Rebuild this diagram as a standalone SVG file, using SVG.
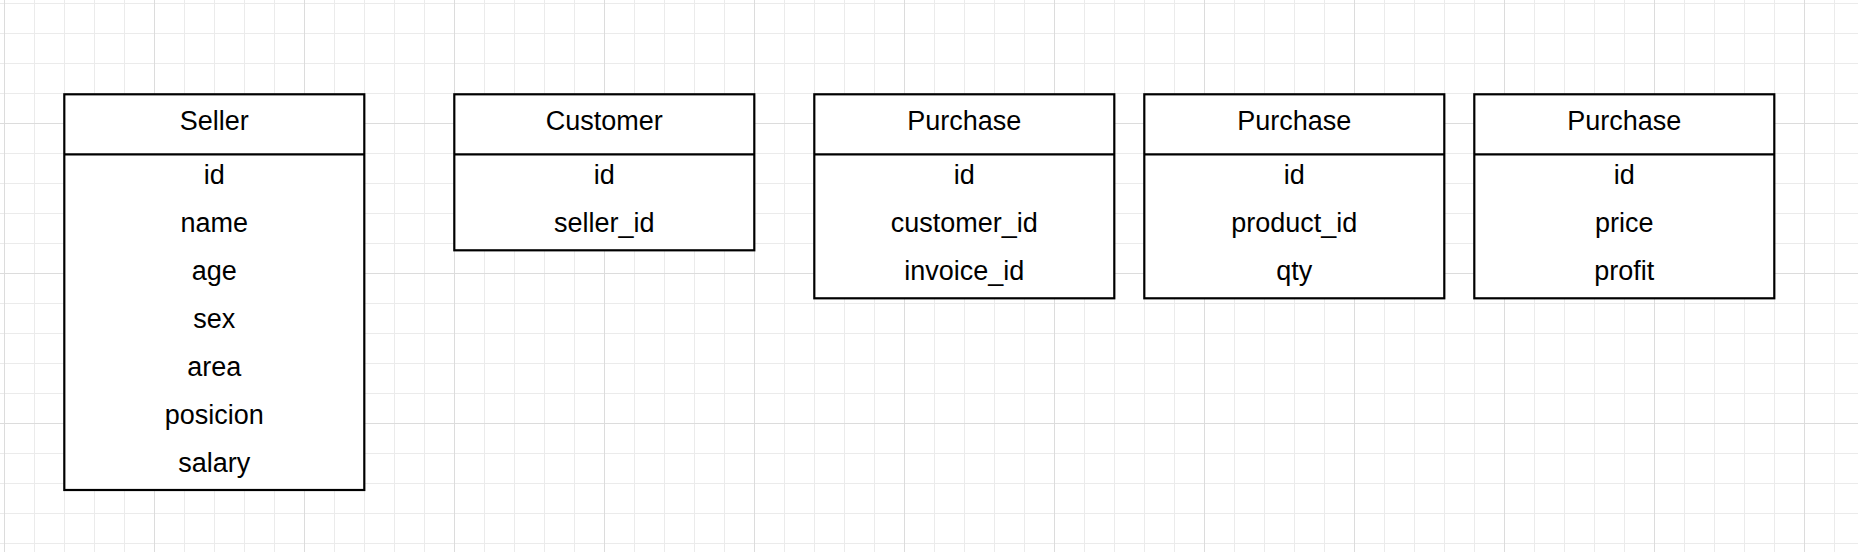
<svg xmlns="http://www.w3.org/2000/svg" width="1858" height="552" viewBox="0 0 1858 552">
  <defs>
    <pattern id="minor" width="30" height="30" patternUnits="userSpaceOnUse" x="4" y="3">
      <rect x="0" y="0" width="1" height="30" fill="#ebebeb"/>
      <rect x="0" y="0" width="30" height="1" fill="#ebebeb"/>
    </pattern>
    <pattern id="major" width="150" height="150" patternUnits="userSpaceOnUse" x="4" y="123">
      <rect x="0" y="0" width="1" height="150" fill="#dcdcdc"/>
      <rect x="0" y="0" width="150" height="1" fill="#dcdcdc"/>
    </pattern>
  </defs>
  <style>
    .box { fill: #ffffff; stroke: #000000; stroke-width: 2.2; }
    .sep { stroke: #000000; stroke-width: 2.2; fill: none; }
    .t { font-family: "Liberation Sans", Arial, sans-serif; font-size: 27px; fill: #000000; text-anchor: middle; }
  </style>
  <rect width="1858" height="552" fill="#ffffff"/>
  <rect width="1858" height="552" fill="url(#minor)"/>
  <rect width="1858" height="552" fill="url(#major)"/>

  <g id="connectors"></g>

  <g id="seller">
    <rect class="box" x="64.3" y="94.3" width="300" height="395.7"/>
    <line class="sep" x1="64.3" y1="154.3" x2="364.3" y2="154.3"/>
    <text class="t" x="214.3" y="130">Seller</text>
    <text class="t" x="214.3" y="183.7">id</text>
    <text class="t" x="214.3" y="231.7">name</text>
    <text class="t" x="214.3" y="279.7">age</text>
    <text class="t" x="214.3" y="327.7">sex</text>
    <text class="t" x="214.3" y="375.7">area</text>
    <text class="t" x="214.3" y="423.7">posicion</text>
    <text class="t" x="214.3" y="471.7">salary</text>
  </g>

  <g id="customer">
    <rect class="box" x="454.3" y="94.3" width="300" height="156"/>
    <line class="sep" x1="454.3" y1="154.3" x2="754.3" y2="154.3"/>
    <text class="t" x="604.3" y="130">Customer</text>
    <text class="t" x="604.3" y="183.7">id</text>
    <text class="t" x="604.3" y="231.7">seller_id</text>
  </g>

  <g id="purchase1">
    <rect class="box" x="814.3" y="94.3" width="300" height="204"/>
    <line class="sep" x1="814.3" y1="154.3" x2="1114.3" y2="154.3"/>
    <text class="t" x="964.3" y="130">Purchase</text>
    <text class="t" x="964.3" y="183.7">id</text>
    <text class="t" x="964.3" y="231.7">customer_id</text>
    <text class="t" x="964.3" y="279.7">invoice_id</text>
  </g>

  <g id="purchase2">
    <rect class="box" x="1144.3" y="94.3" width="300" height="204"/>
    <line class="sep" x1="1144.3" y1="154.3" x2="1444.3" y2="154.3"/>
    <text class="t" x="1294.3" y="130">Purchase</text>
    <text class="t" x="1294.3" y="183.7">id</text>
    <text class="t" x="1294.3" y="231.7">product_id</text>
    <text class="t" x="1294.3" y="279.7">qty</text>
  </g>

  <g id="purchase3">
    <rect class="box" x="1474.3" y="94.3" width="300" height="204"/>
    <line class="sep" x1="1474.3" y1="154.3" x2="1774.3" y2="154.3"/>
    <text class="t" x="1624.3" y="130">Purchase</text>
    <text class="t" x="1624.3" y="183.7">id</text>
    <text class="t" x="1624.3" y="231.7">price</text>
    <text class="t" x="1624.3" y="279.7">profit</text>
  </g>
</svg>
